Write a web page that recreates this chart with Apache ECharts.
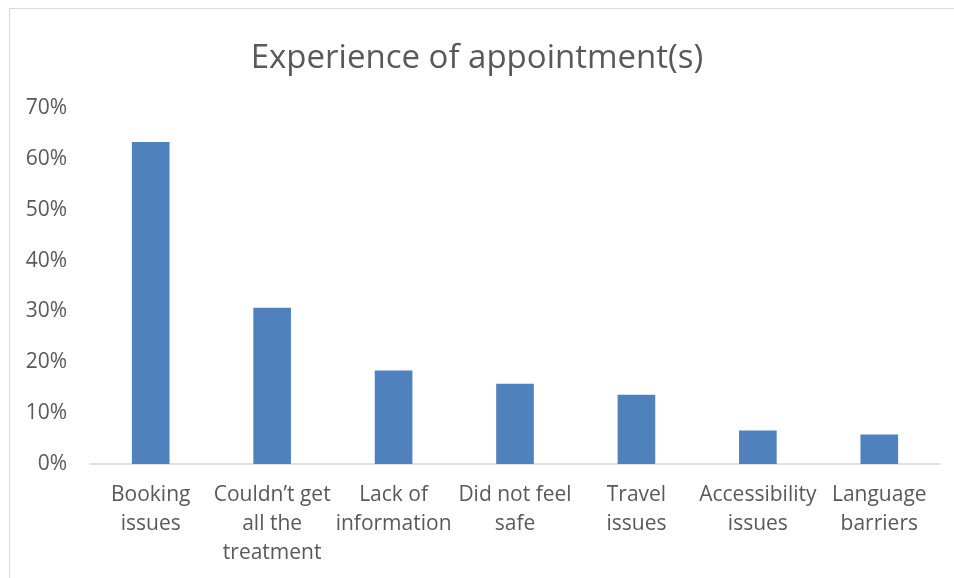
<!DOCTYPE html>
<html>
<head>
<meta charset="utf-8">
<style>
  html, body { margin: 0; padding: 0; background: #fff; }
  #chart { width: 954px; height: 578px; }
</style>
<script src="https://cdn.jsdelivr.net/npm/echarts@6/dist/echarts.min.js"></script>
</head>
<body>
<div id="chart"></div>
<script>
// data
const categories = [
  "Booking\nissues",
  "Couldn’t get\nall the\ntreatment",
  "Lack of\ninformation",
  "Did not feel\nsafe",
  "Travel\nissues",
  "Accessibility\nissues",
  "Language\nbarriers"
];
const values = [0.633, 0.307, 0.184, 0.158, 0.136, 0.066, 0.058];

const textColor = "#595959";
const font = "'Open Sans', 'Liberation Sans', sans-serif";

let myChart = echarts.init(document.getElementById("chart"));
myChart.setOption({
  animation: false,
  backgroundColor: "#fff",
  title: {
    text: "Experience of appointment(s)",
    left: "center",
    top: 37,
    textStyle: { color: textColor, fontFamily: font, fontSize: 33, fontWeight: "normal" }
  },
  // chart frame (left and top edges show, right/bottom are cropped)
  graphic: [{
    type: "rect",
    shape: { x: 9.5, y: 8.5, width: 1000, height: 1000 },
    style: { fill: "none", stroke: "#d9d9d9", lineWidth: 1 },
    silent: true
  }],
  grid: {
    left: 90,
    right: 14,
    top: 108,
    bottom: 114
  },
  xAxis: {
    type: "category",
    data: categories,
    axisLine: { lineStyle: { color: "#d9d9d9", width: 1.5 } },
    axisTick: { show: false },
    axisLabel: {
      color: textColor,
      fontFamily: font,
      fontSize: 21,
      lineHeight: 29,
      margin: 17,
      interval: 0
    }
  },
  yAxis: {
    type: "value",
    min: 0,
    max: 0.7,
    interval: 0.1,
    axisLine: { show: false },
    axisTick: { show: false },
    splitLine: { show: false },
    axisLabel: {
      color: textColor,
      fontFamily: font,
      fontSize: 21,
      margin: 23,
      formatter: v => Math.round(v * 100) + "%"
    }
  },
  series: [{
    type: "bar",
    data: values,
    barWidth: "31%",
    itemStyle: { color: "#4f81bd" }
  }]
});
</script>
</body>
</html>
